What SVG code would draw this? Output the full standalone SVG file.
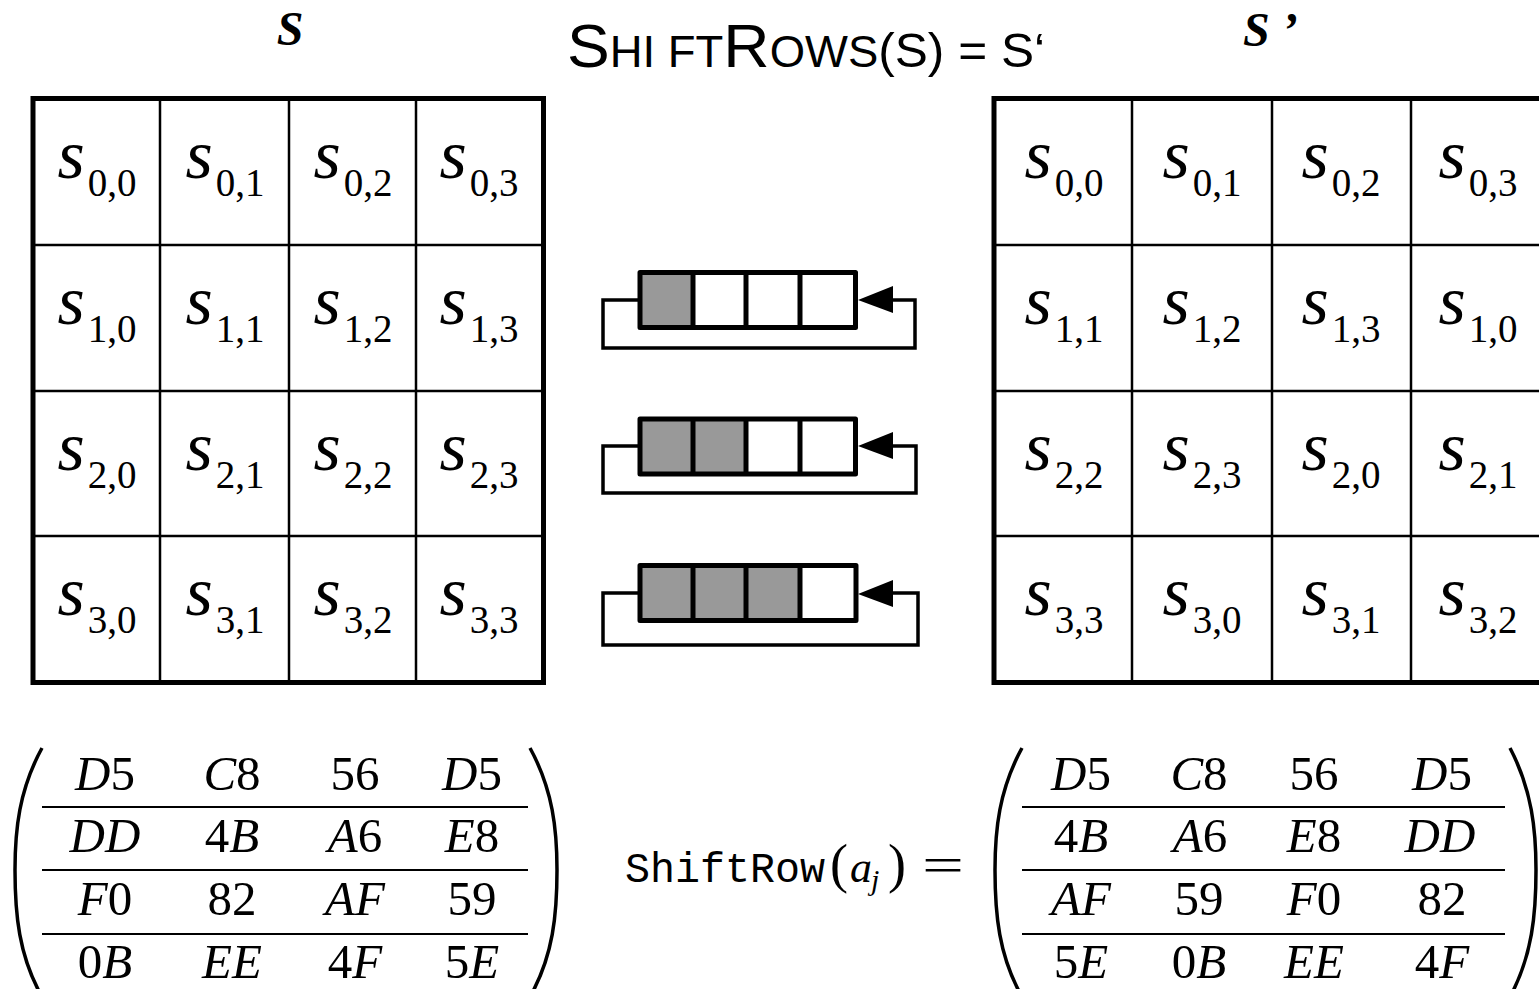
<svg xmlns="http://www.w3.org/2000/svg" width="1539" height="989" viewBox="0 0 1539 989">
<style>
.c{font-family:"Liberation Serif","Times New Roman",Times,serif;text-anchor:middle;fill:#000}
.s{font-style:italic;font-size:70px}
.sub{font-size:39px}
.m{font-family:"Liberation Serif","Times New Roman",Times,serif;font-size:49px;text-anchor:middle;fill:#000}
.i{font-style:italic}
.frame{fill:none;stroke:#000;stroke-width:5}
.thin{stroke:#000;stroke-width:2.5}
.div{stroke:#000;stroke-width:5}
.reg{fill:none;stroke:#000;stroke-width:5;stroke-linejoin:round}
.grey{fill:#999}
.loop{fill:none;stroke:#000;stroke-width:3.5}
.rule{stroke:#000;stroke-width:2}
.par{fill:none;stroke:#000;stroke-width:3.5}
.tt{font-family:"Liberation Sans",Arial,sans-serif;fill:#000}
.serif{font-family:"Liberation Serif","Times New Roman",Times,serif}
</style>
<rect width="1539" height="989" fill="#fff"/>

<g id="title">
<text class="tt" x="567" y="67" textLength="478" lengthAdjust="spacingAndGlyphs"><tspan font-size="62">S</tspan><tspan font-size="44">HI FT</tspan><tspan font-size="62">R</tspan><tspan font-size="44">OWS</tspan><tspan font-size="48">(S) = S‘</tspan></text>
</g>

<g id="label-s">
<text class="serif" x="290" y="45" font-style="italic" font-weight="bold" font-size="48" text-anchor="middle">S</text>
</g>
<g id="label-s-prime">
<text class="serif" x="1243" y="46" font-style="italic" font-weight="bold" font-size="48">S ’</text>
</g>

<g id="grid-s">
<rect class="frame" x="33" y="98.5" width="510.5" height="584"/>
<line class="thin" x1="160" y1="98.5" x2="160" y2="682.5"/>
<line class="thin" x1="289" y1="98.5" x2="289" y2="682.5"/>
<line class="thin" x1="416" y1="98.5" x2="416" y2="682.5"/>
<line class="thin" x1="33" y1="245" x2="543.5" y2="245"/>
<line class="thin" x1="33" y1="391" x2="543.5" y2="391"/>
<line class="thin" x1="33" y1="536" x2="543.5" y2="536"/>
<text class="c" x="97" y="178"><tspan class="s">s</tspan><tspan class="sub" dx="3" dy="18">0,0</tspan></text>
<text class="c" x="225" y="178"><tspan class="s">s</tspan><tspan class="sub" dx="3" dy="18">0,1</tspan></text>
<text class="c" x="353" y="178"><tspan class="s">s</tspan><tspan class="sub" dx="3" dy="18">0,2</tspan></text>
<text class="c" x="479" y="178"><tspan class="s">s</tspan><tspan class="sub" dx="3" dy="18">0,3</tspan></text>
<text class="c" x="97" y="324"><tspan class="s">s</tspan><tspan class="sub" dx="3" dy="18">1,0</tspan></text>
<text class="c" x="225" y="324"><tspan class="s">s</tspan><tspan class="sub" dx="3" dy="18">1,1</tspan></text>
<text class="c" x="353" y="324"><tspan class="s">s</tspan><tspan class="sub" dx="3" dy="18">1,2</tspan></text>
<text class="c" x="479" y="324"><tspan class="s">s</tspan><tspan class="sub" dx="3" dy="18">1,3</tspan></text>
<text class="c" x="97" y="469.5"><tspan class="s">s</tspan><tspan class="sub" dx="3" dy="18">2,0</tspan></text>
<text class="c" x="225" y="469.5"><tspan class="s">s</tspan><tspan class="sub" dx="3" dy="18">2,1</tspan></text>
<text class="c" x="353" y="469.5"><tspan class="s">s</tspan><tspan class="sub" dx="3" dy="18">2,2</tspan></text>
<text class="c" x="479" y="469.5"><tspan class="s">s</tspan><tspan class="sub" dx="3" dy="18">2,3</tspan></text>
<text class="c" x="97" y="615"><tspan class="s">s</tspan><tspan class="sub" dx="3" dy="18">3,0</tspan></text>
<text class="c" x="225" y="615"><tspan class="s">s</tspan><tspan class="sub" dx="3" dy="18">3,1</tspan></text>
<text class="c" x="353" y="615"><tspan class="s">s</tspan><tspan class="sub" dx="3" dy="18">3,2</tspan></text>
<text class="c" x="479" y="615"><tspan class="s">s</tspan><tspan class="sub" dx="3" dy="18">3,3</tspan></text>
</g>

<g id="grid-s-prime">
<rect class="frame" x="994" y="98.5" width="560" height="584"/>
<line class="thin" x1="1132" y1="98.5" x2="1132" y2="682.5"/>
<line class="thin" x1="1272" y1="98.5" x2="1272" y2="682.5"/>
<line class="thin" x1="1411" y1="98.5" x2="1411" y2="682.5"/>
<line class="thin" x1="994" y1="245" x2="1554" y2="245"/>
<line class="thin" x1="994" y1="391" x2="1554" y2="391"/>
<line class="thin" x1="994" y1="536" x2="1554" y2="536"/>
<text class="c" x="1064" y="178"><tspan class="s">s</tspan><tspan class="sub" dx="3" dy="18">0,0</tspan></text>
<text class="c" x="1202" y="178"><tspan class="s">s</tspan><tspan class="sub" dx="3" dy="18">0,1</tspan></text>
<text class="c" x="1341" y="178"><tspan class="s">s</tspan><tspan class="sub" dx="3" dy="18">0,2</tspan></text>
<text class="c" x="1478" y="178"><tspan class="s">s</tspan><tspan class="sub" dx="3" dy="18">0,3</tspan></text>
<text class="c" x="1064" y="324"><tspan class="s">s</tspan><tspan class="sub" dx="3" dy="18">1,1</tspan></text>
<text class="c" x="1202" y="324"><tspan class="s">s</tspan><tspan class="sub" dx="3" dy="18">1,2</tspan></text>
<text class="c" x="1341" y="324"><tspan class="s">s</tspan><tspan class="sub" dx="3" dy="18">1,3</tspan></text>
<text class="c" x="1478" y="324"><tspan class="s">s</tspan><tspan class="sub" dx="3" dy="18">1,0</tspan></text>
<text class="c" x="1064" y="469.5"><tspan class="s">s</tspan><tspan class="sub" dx="3" dy="18">2,2</tspan></text>
<text class="c" x="1202" y="469.5"><tspan class="s">s</tspan><tspan class="sub" dx="3" dy="18">2,3</tspan></text>
<text class="c" x="1341" y="469.5"><tspan class="s">s</tspan><tspan class="sub" dx="3" dy="18">2,0</tspan></text>
<text class="c" x="1478" y="469.5"><tspan class="s">s</tspan><tspan class="sub" dx="3" dy="18">2,1</tspan></text>
<text class="c" x="1064" y="615"><tspan class="s">s</tspan><tspan class="sub" dx="3" dy="18">3,3</tspan></text>
<text class="c" x="1202" y="615"><tspan class="s">s</tspan><tspan class="sub" dx="3" dy="18">3,0</tspan></text>
<text class="c" x="1341" y="615"><tspan class="s">s</tspan><tspan class="sub" dx="3" dy="18">3,1</tspan></text>
<text class="c" x="1478" y="615"><tspan class="s">s</tspan><tspan class="sub" dx="3" dy="18">3,2</tspan></text>
</g>

<g id="shift-row-1">
<rect class="grey" x="640" y="272.5" width="53" height="55"/>
<rect class="reg" x="640" y="272.5" width="215.5" height="55"/>
<line class="div" x1="693" y1="272.5" x2="693" y2="327.5"/>
<line class="div" x1="746" y1="272.5" x2="746" y2="327.5"/>
<line class="div" x1="800" y1="272.5" x2="800" y2="327.5"/>
<polyline class="loop" points="640,300 603,300 603,348 915,348 915,300 880,300"/>
<polygon points="858,300 893,286 893,313" fill="#000"/>
</g>

<g id="shift-row-2">
<rect class="grey" x="640" y="419" width="106" height="55"/>
<rect class="reg" x="640" y="419" width="215.5" height="55"/>
<line class="div" x1="693" y1="419" x2="693" y2="474"/>
<line class="div" x1="746" y1="419" x2="746" y2="474"/>
<line class="div" x1="800" y1="419" x2="800" y2="474"/>
<polyline class="loop" points="640,446 603,446 603,493 916,493 916,446 880,446"/>
<polygon points="858,446 893,432 893,459" fill="#000"/>
</g>

<g id="shift-row-3">
<rect class="grey" x="640" y="565.5" width="160" height="55"/>
<rect class="reg" x="640" y="565.5" width="216" height="55"/>
<line class="div" x1="693" y1="565.5" x2="693" y2="620.5"/>
<line class="div" x1="746" y1="565.5" x2="746" y2="620.5"/>
<line class="div" x1="800" y1="565.5" x2="800" y2="620.5"/>
<polyline class="loop" points="640,593 603,593 603,645 918,645 918,593 880,593"/>
<polygon points="858,594 893,580 893,607" fill="#000"/>
</g>

<g id="matrix-left">
<path class="par" d="M42 748 C19 790 15 830 15 870 C15 915 19 955 41 995"/>
<path class="par" d="M530 748 C553 790 557 830 557 870 C557 915 553 955 531 995"/>
<line class="rule" x1="42" y1="807" x2="528" y2="807"/>
<line class="rule" x1="42" y1="870" x2="528" y2="870"/>
<line class="rule" x1="42" y1="934" x2="528" y2="934"/>
<text class="m" x="105" y="790"><tspan class="i">D</tspan>5</text>
<text class="m" x="232" y="790"><tspan class="i">C</tspan>8</text>
<text class="m" x="355" y="790">56</text>
<text class="m" x="472" y="790"><tspan class="i">D</tspan>5</text>
<text class="m" x="105" y="852"><tspan class="i">DD</tspan></text>
<text class="m" x="232" y="852">4<tspan class="i">B</tspan></text>
<text class="m" x="355" y="852"><tspan class="i">A</tspan>6</text>
<text class="m" x="472" y="852"><tspan class="i">E</tspan>8</text>
<text class="m" x="105" y="915"><tspan class="i">F</tspan>0</text>
<text class="m" x="232" y="915">82</text>
<text class="m" x="355" y="915"><tspan class="i">AF</tspan></text>
<text class="m" x="472" y="915">59</text>
<text class="m" x="105" y="978">0<tspan class="i">B</tspan></text>
<text class="m" x="232" y="978"><tspan class="i">EE</tspan></text>
<text class="m" x="355" y="978">4<tspan class="i">F</tspan></text>
<text class="m" x="472" y="978">5<tspan class="i">E</tspan></text>
</g>

<g id="shiftrow-label">
<text x="625" y="882" font-family="Liberation Mono,Courier New,monospace" font-size="42" textLength="200" lengthAdjust="spacingAndGlyphs">ShiftRow</text>
<text class="serif" x="830" y="882" font-size="54">(</text>
<text class="serif" x="850" y="882" font-style="italic" font-size="44">a</text>
<text class="serif" x="871" y="890" font-style="italic" font-size="30">j</text>
<text class="serif" x="888" y="882" font-size="54">)</text>
<text class="serif" x="922" y="882" font-size="50" textLength="42" lengthAdjust="spacingAndGlyphs">=</text>
</g>

<g id="matrix-right">
<path class="par" d="M1022 748 C999 790 995 830 995 870 C995 915 999 955 1021 995"/>
<path class="par" d="M1510 748 C1532 790 1536 830 1536 870 C1536 915 1532 955 1511 995"/>
<line class="rule" x1="1022" y1="807" x2="1505" y2="807"/>
<line class="rule" x1="1022" y1="870" x2="1505" y2="870"/>
<line class="rule" x1="1022" y1="934" x2="1505" y2="934"/>
<text class="m" x="1081" y="790"><tspan class="i">D</tspan>5</text>
<text class="m" x="1199" y="790"><tspan class="i">C</tspan>8</text>
<text class="m" x="1314" y="790">56</text>
<text class="m" x="1442" y="790"><tspan class="i">D</tspan>5</text>
<text class="m" x="1081" y="852">4<tspan class="i">B</tspan></text>
<text class="m" x="1200" y="852"><tspan class="i">A</tspan>6</text>
<text class="m" x="1314" y="852"><tspan class="i">E</tspan>8</text>
<text class="m" x="1440" y="852"><tspan class="i">DD</tspan></text>
<text class="m" x="1081" y="915"><tspan class="i">AF</tspan></text>
<text class="m" x="1199" y="915">59</text>
<text class="m" x="1314" y="915"><tspan class="i">F</tspan>0</text>
<text class="m" x="1442" y="915">82</text>
<text class="m" x="1081" y="978">5<tspan class="i">E</tspan></text>
<text class="m" x="1199" y="978">0<tspan class="i">B</tspan></text>
<text class="m" x="1314" y="978"><tspan class="i">EE</tspan></text>
<text class="m" x="1442" y="978">4<tspan class="i">F</tspan></text>
</g>
</svg>
